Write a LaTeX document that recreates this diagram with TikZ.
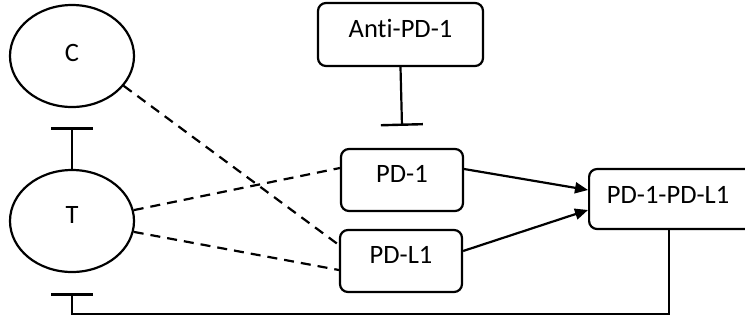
\documentclass[tikz,border=0pt]{standalone}
\usepackage{fontspec}
\setmainfont{Carlito}[Ligatures=NoCommon]
\usetikzlibrary{arrows.meta,shapes.geometric,calc}
\begin{document}
\begin{tikzpicture}[x=1pt,y=-1pt,
  every node/.style={font=\fontsize{26.5}{30}\selectfont,text height=17pt,text depth=12pt},
  cell/.style={draw,line width=2.2pt,ellipse,minimum width=124pt,minimum height=102pt,inner sep=0pt},
  molbox/.style={draw,line width=2.2pt,rounded corners=8pt,inner sep=0pt},
  dash link/.style={line width=2.2pt,dash pattern=on 10pt off 7pt},
  block/.style={line width=2.2pt,-{Bar[width=42pt,line width=2.4pt]}},
  act/.style={line width=2.2pt,-{Triangle[length=13pt,width=11pt]}}]
\useasboundingbox (0,0) rectangle (745,322);
% cells
\node[cell,text depth=7pt] (C) at (72,56) {C};
\node[cell] (T) at (72,221) {T};
% molecules
\node[molbox,minimum width=165pt,minimum height=63pt] (anti) at (400.5,34.5) {Anti-PD-1};
\node[molbox,minimum width=122pt,minimum height=62pt] (pd1) at (402,180) {PD-1};
\node[molbox,minimum width=122pt,minimum height=62pt] (pdl1) at (401,261) {PD-L1};
\node[molbox,minimum width=172pt,minimum height=60pt,anchor=west,text depth=8pt] (cplx) at (588,199) {\hspace*{-14pt}PD-1-PD-L1};
% inhibition bar ends
\coordinate (barC) at ($(C.south)+(0,19)$);
\coordinate (barPD1) at ($(pd1.north)+(0,-22)$);
\coordinate (barT) at ($(T.south)+(0,20)$);
\coordinate (cplxdown) at ($(cplx.south west)+(81,0)$);
\coordinate (corner1) at ($(cplxdown)+(0,84)$);
% inhibitory links
\draw[block] (T.north) -- (barC);
\draw[block] (anti.south) -- (barPD1);
\draw[block] (cplxdown) -- (corner1) -| (barT);
% dashed associations
\draw[dash link] (C.-30) -- ($(pdl1.west)+(0,-16)$);
\draw[dash link] (T.10) -- ($(pd1.west)+(0,-12)$);
\draw[dash link] (T.-10) -- ($(pdl1.west)+(0,9)$);
% complex formation
\draw[act] (pd1.east |- 0,169) -- ($(cplx.west)+(0,-9)$);
\draw[act] (pdl1.east |- 0,251) -- ($(cplx.west)+(0,11)$);
\end{tikzpicture}
\end{document}
